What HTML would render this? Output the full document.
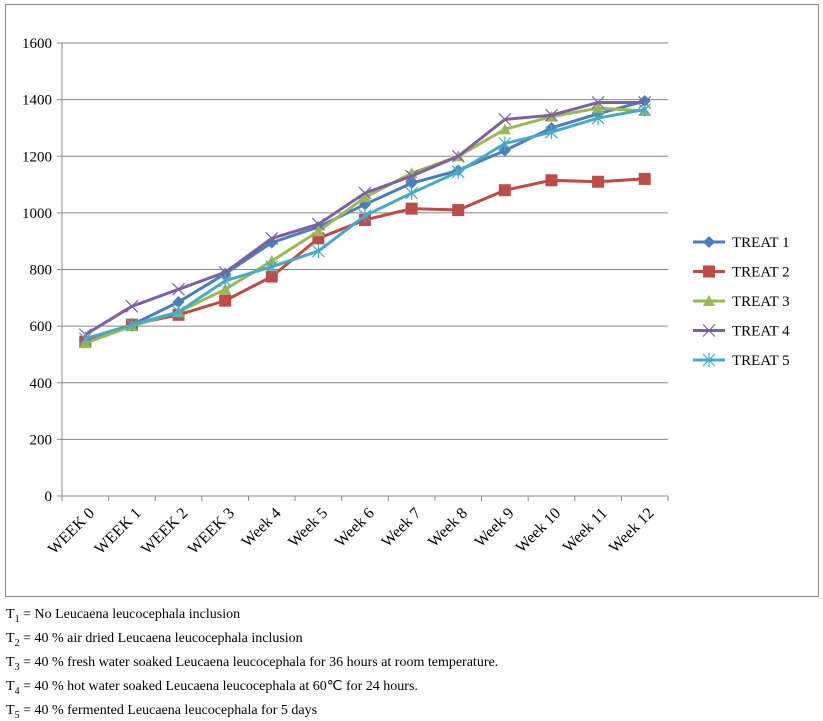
<!DOCTYPE html>
<html><head><meta charset="utf-8"><style>
body{margin:0;background:#fff;font-family:"Liberation Serif",serif;}
svg text{font-family:"Liberation Serif",serif;}
.note{position:absolute;left:6px;font-size:14px;line-height:16px;color:#000;}
sub{font-size:10px;line-height:0;}
</style></head><body>
<svg id="chart" width="823" height="600" style="position:absolute;left:0;top:0">
<rect x="5.5" y="4.5" width="813" height="592" fill="#fff" stroke="#888"/>
<g id="g"></g>
</svg>
<div class="note" style="top:607px">T<sub>1</sub> = No Leucaena leucocephala inclusion</div>
<div class="note" style="top:631px">T<sub>2</sub> = 40 % air dried Leucaena leucocephala inclusion</div>
<div class="note" style="top:655px">T<sub>3</sub> = 40 % fresh water soaked Leucaena leucocephala for 36 hours at room temperature.</div>
<div class="note" style="top:679px">T<sub>4</sub> = 40 % hot water soaked Leucaena leucocephala at 60℃ for 24 hours.</div>
<div class="note" style="top:703px">T<sub>5</sub> = 40 % fermented Leucaena leucocephala for 5 days</div>
<script>
const categories=["WEEK 0","WEEK 1","WEEK 2","WEEK 3","Week 4","Week 5","Week 6","Week 7","Week 8","Week 9","Week 10","Week 11","Week 12"];
const treat1=[545,605,685,785,895,950,1030,1105,1150,1220,1300,1350,1395];
const treat2=[545,605,640,690,775,910,975,1015,1010,1080,1115,1110,1120];
const treat3=[540,600,650,730,830,935,1055,1140,1200,1295,1340,1370,1360];
const treat4=[570,670,730,790,910,960,1070,1130,1200,1330,1345,1390,1390];
const treat5=[555,605,650,760,810,865,990,1070,1145,1245,1285,1335,1365];
const yTicks=[0,200,400,600,800,1000,1200,1400,1600];
const seriesNames=["TREAT 1","TREAT 2","TREAT 3","TREAT 4","TREAT 5"];
const NS="http://www.w3.org/2000/svg";
const g=document.getElementById('g');
const X0=62,X1=668,Y0=496,Y1=43,YMAX=1600;
const band=(X1-X0)/categories.length;
const xs=i=>X0+band*(i+0.5);
const ys=v=>Y0-(v/YMAX)*(Y0-Y1);
function mk(t,a){const e=document.createElementNS(NS,t);for(const k in a)e.setAttribute(k,a[k]);g.appendChild(e);return e;}
yTicks.forEach(v=>{
 const l=mk('line',{x1:X0,x2:X1,y1:ys(v),y2:ys(v),stroke:'#888','stroke-width':1});
 
 
 const tk=mk('line',{x1:X0-5,x2:X0,y1:ys(v),y2:ys(v),stroke:'#888'});
 
 
 const t=mk('text',{x:X0-10,y:ys(v)+5,'text-anchor':'end','font-size':15});
 t.textContent=v;
 
 
});
const ax=mk('line',{x1:X0,x2:X0,y1:Y1,y2:Y0,stroke:'#888'});


categories.forEach((c,i)=>{
 const xb=X0+band*i;
 const tk=mk('line',{x1:xb,x2:xb,y1:Y0,y2:Y0+5,stroke:'#888'});
 
 
 const x=xs(i)+10,y=Y0+18;
 const t=mk('text',{x:x,y:y,'text-anchor':'end','font-size':16,transform:`rotate(-45 ${x} ${y})`});
 t.textContent=c;
 
 
});
const tk2=mk('line',{x1:X1,x2:X1,y1:Y0,y2:Y0+5,stroke:'#888'});


const xax=mk('line',{x1:X0,x2:X1,y1:Y0,y2:Y0,stroke:'#888'});


const colors=["#4a7ebb","#be4b48","#98b954","#7d60a0","#46aac5"];
const data=[treat1,treat2,treat3,treat4,treat5];
function marker(k,x,y){
 const c=colors[k];let e;
 if(k===0)e=mk('polygon',{points:`${x},${y-6} ${x+6},${y} ${x},${y+6} ${x-6},${y}`,fill:c});
 else if(k===1)e=mk('rect',{x:x-6,y:y-6,width:12,height:12,fill:c});
 else if(k===2)e=mk('polygon',{points:`${x},${y-6} ${x+6},${y+5} ${x-6},${y+5}`,fill:c});
 else if(k===3)e=mk('path',{d:`M${x-6} ${y-6}L${x+6} ${y+6}M${x-6} ${y+6}L${x+6} ${y-6}`,stroke:c,'stroke-width':1.2,fill:'none'});
 else e=mk('path',{d:`M${x-6} ${y-6}L${x+6} ${y+6}M${x-6} ${y+6}L${x+6} ${y-6}M${x} ${y-7}L${x} ${y+7}`,stroke:c,'stroke-width':1.2,fill:'none'});
 return e;
}
data.forEach((arr,k)=>{
 const p=mk('polyline',{points:arr.map((v,i)=>xs(i)+','+ys(v)).join(' '),fill:'none',stroke:colors[k],'stroke-width':3});
 
 
 arr.forEach((v,i)=>{
  const m=marker(k,xs(i),ys(v));
  
  
 });
});
seriesNames.forEach((n,k)=>{
 const y=242+k*29.5;
 const l=mk('line',{x1:693,x2:725,y1:y,y2:y,stroke:colors[k],'stroke-width':3});
 
 
 const m=marker(k,709,y);
 
 
 const t=mk('text',{x:732,y:y+5,'font-size':15});
 t.textContent=n;
 
 
});
</script>
</body></html>
